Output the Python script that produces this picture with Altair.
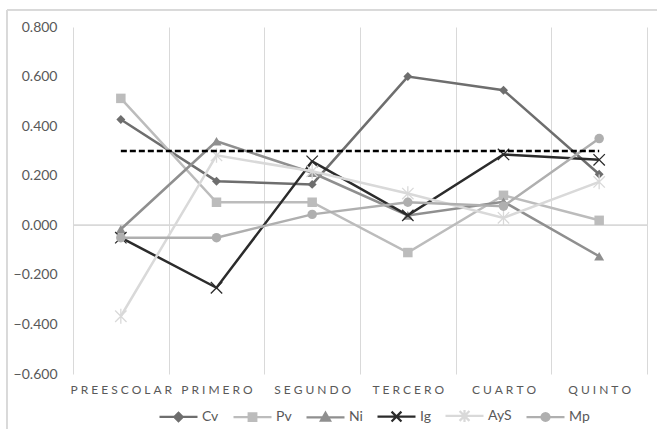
import altair as alt
import pandas as pd

categories = ["PREESCOLAR", "PRIMERO", "SEGUNDO", "TERCERO", "CUARTO", "QUINTO"]
series = ["Cv", "Pv", "Ni", "Ig", "AyS", "Mp"]
cv = [0.427, 0.178, 0.165, 0.600, 0.545, 0.206]
pv = [0.512, 0.093, 0.093, -0.110, 0.121, 0.020]
ni = [-0.016, 0.339, 0.212, 0.040, 0.095, -0.125]
ig = [-0.050, -0.252, 0.258, 0.040, 0.286, 0.264]
ays = [-0.367, 0.282, 0.218, 0.128, 0.030, 0.175]
mp = [-0.050, -0.050, 0.044, 0.093, 0.077, 0.350]
reference = [0.300, 0.300, 0.300, 0.300, 0.300, 0.300]
y_ticks = [-0.6, -0.4, -0.2, 0.0, 0.2, 0.4, 0.6, 0.8]

colors = ["#6e6e6e", "#bcbcbc", "#8f8f8f", "#2b2b2b", "#d9d9d9", "#afafaf"]
values = [cv, pv, ni, ig, ays, mp]

# marker styles for the plot
marker_shapes = [
    "diamond",
    "square",
    "triangle-up",
    "M-1,-1L1,1M-1,1L1,-1",
    "M-1,-1L1,1M-1,1L1,-1M0,-1.3V1.3",
    "circle",
]
marker_filled = [True, True, True, False, False, True]
marker_sizes = [80, 90, 100, 130, 130, 90]
marker_strokes = [1, 1, 1, 1.3, 1.3, 1]

# legend symbols: line segment plus marker
legend_paths = [
    "M-1,0H1M0,-0.22L0.22,0L0,0.22L-0.22,0Z",
    "M-1,0H1M-0.2,-0.2H0.2V0.2H-0.2Z",
    "M-1,0H1M0,-0.24L0.24,0.18H-0.24Z",
    "M-1,0H1M-0.26,-0.26L0.26,0.26M-0.26,0.26L0.26,-0.26",
    "M-1,0H1M-0.26,-0.26L0.26,0.26M-0.26,0.26L0.26,-0.26M0,-0.32V0.32",
    "M-1,0H1M-0.21,0A0.21,0.21,0,1,0,0.21,0A0.21,0.21,0,1,0,-0.21,0Z",
]

rows = []
for s, vals in zip(series, values):
    for c, v in zip(categories, vals):
        rows.append({"cat": c, "serie": s, "value": v})
df = pd.DataFrame(rows)
ref_df = pd.DataFrame({"cat": categories, "value": reference})

FONT = "Lato"
TXT = "#595959"
GRID = "#d9d9d9"

x_enc = alt.X(
    "cat:N",
    sort=categories,
    scale=alt.Scale(domain=categories, paddingInner=0, paddingOuter=0),
    axis=alt.Axis(
        title=None, domain=False, ticks=False, grid=True, tickBand="extent",
        gridColor=GRID, gridWidth=1, labelAngle=0, labelFont=FONT,
        labelFontSize=12, labelColor=TXT, labelPadding=10,
        labelExpr="join(split(datum.label, ''), '\u2005')",
    ),
)
y_enc = alt.Y(
    "value:Q",
    scale=alt.Scale(domain=[-0.6, 0.8], nice=False, zero=False),
    axis=alt.Axis(
        title=None, domain=False, ticks=False, grid=False, values=y_ticks,
        format=".3f", labelFont=FONT, labelFontSize=14, labelColor=TXT,
        labelPadding=16,
    ),
)

base = alt.Chart(df)

layers = []
# zero line
layers.append(
    alt.Chart(ref_df).mark_rule(color=GRID, strokeWidth=1).encode(y=alt.datum(0))
)

for i, s in enumerate(series):
    sub = base.transform_filter(alt.datum.serie == s)
    layers.append(
        sub.mark_line(color=colors[i], strokeWidth=2.5).encode(x=x_enc, y=y_enc)
    )
    layers.append(
        sub.mark_point(
            shape=marker_shapes[i], filled=marker_filled[i], size=marker_sizes[i],
            color=colors[i], opacity=1, strokeWidth=marker_strokes[i],
        ).encode(x=x_enc, y=y_enc)
    )

# dashed reference line
layers.append(
    alt.Chart(ref_df).mark_line(color="#000000", strokeWidth=2.5, strokeDash=[6, 3]).encode(
        x=x_enc, y=y_enc
    )
)

legend = alt.Legend(
    title=None, orient="none", legendX=85, legendY=368, direction="horizontal",
    symbolSize=1444, symbolStrokeWidth=2.25, symbolOpacity=1,
    labelFont=FONT, labelFontSize=14, labelColor=TXT, labelOffset=3,
    columnPadding=10, padding=0,
)
layers.append(
    base.mark_point(filled=True, opacity=0, strokeWidth=2.25).encode(
        x=x_enc, y=y_enc,
        color=alt.Color("serie:N", scale=alt.Scale(domain=series, range=colors), legend=legend),
        stroke=alt.Stroke("serie:N", scale=alt.Scale(domain=series, range=colors), legend=legend),
        shape=alt.Shape("serie:N", scale=alt.Scale(domain=series, range=legend_paths), legend=legend),
    )
)

# outer chart frame
layers.append(
    alt.Chart(ref_df).mark_rule(color=GRID, strokeWidth=1).encode(
        x=alt.value(-66), x2=alt.value(590), y=alt.value(-17)
    )
)
layers.append(
    alt.Chart(ref_df).mark_rule(color=GRID, strokeWidth=1).encode(
        x=alt.value(-66), y=alt.value(-17), y2=alt.value(410)
    )
)

chart = alt.layer(*layers).properties(
    width=574, height=347,
    autosize=alt.AutoSizeParams(type="none"),
    padding={"left": 73, "top": 27, "right": 10, "bottom": 55},
    background="white",
).configure_view(stroke=None)

chart.save("out.html", embed_options={"renderer": "svg", "actions": False})
